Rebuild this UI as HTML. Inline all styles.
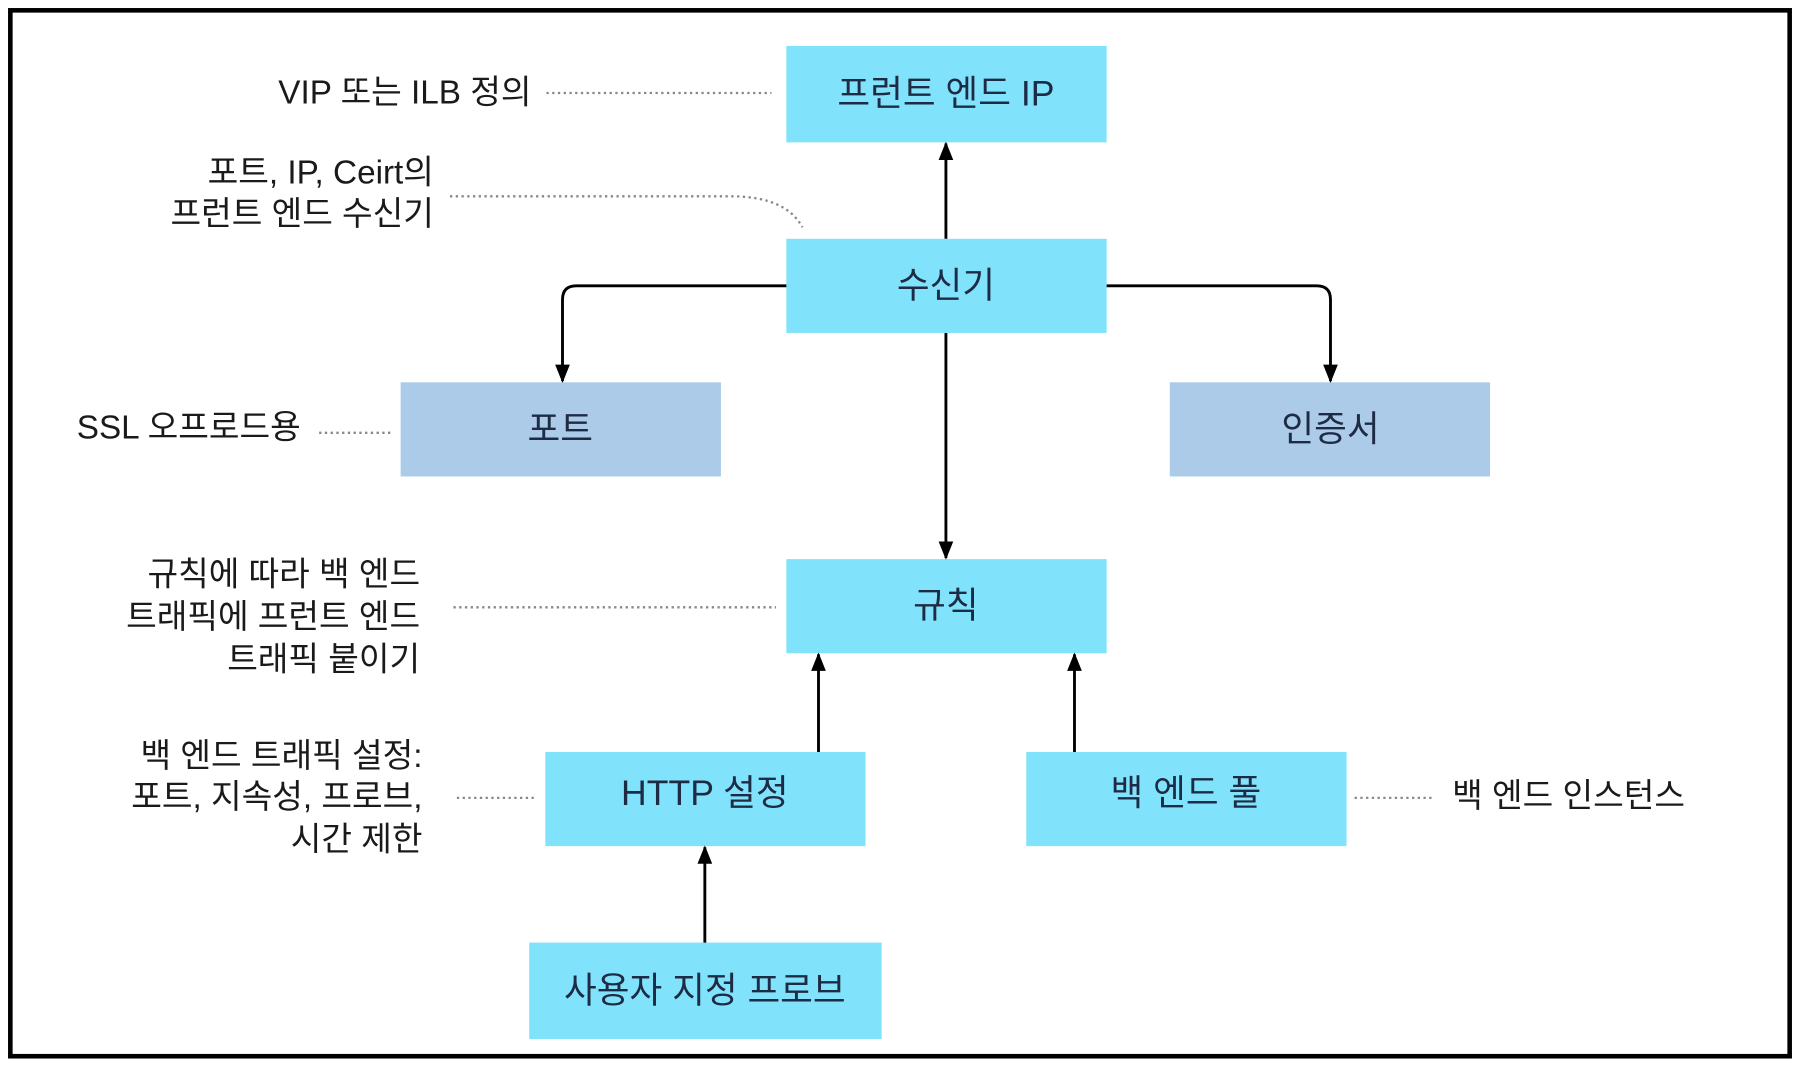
<!DOCTYPE html>
<html><head><meta charset="utf-8"><style>
html,body{margin:0;padding:0;background:#fff;}
svg{display:block;}
text{font-family:"Liberation Sans","Noto Sans CJK KR",sans-serif;}
.b{font-size:31px;fill:#1e2b44;text-anchor:middle;}
.l{font-size:29px;fill:#1a1a1a;}
.d{stroke:#888;stroke-width:2;stroke-dasharray:2 3;fill:none;}
.a{stroke:#000;stroke-width:2.5;fill:none;}
</style></head><body>
<svg width="1800" height="1070" viewBox="0 0 1568 932" preserveAspectRatio="none">
<defs><marker id="m" viewBox="0 0 10 10" refX="9" refY="5" markerWidth="8" markerHeight="8" markerUnits="userSpaceOnUse" orient="auto"><path d="M0,0 L10,5 L0,10z" fill="#000"/></marker>
<marker id="m2" viewBox="0 0 10 10" refX="9" refY="5" markerWidth="16" markerHeight="16" markerUnits="userSpaceOnUse" orient="auto"><path d="M0,1 L10,5 L0,9z" fill="#000"/></marker></defs>
<rect x="9" y="9" width="1550" height="911" fill="#fff" stroke="#000" stroke-width="4"/>
<g fill="#80e3fb">
<rect x="685" y="40" width="279" height="84"/>
<rect x="685" y="208" width="279" height="82"/>
<rect x="685" y="487" width="279" height="82"/>
<rect x="475" y="655" width="279" height="82"/>
<rect x="894" y="655" width="279" height="82"/>
<rect x="461" y="821" width="307" height="84"/>
</g>
<g fill="#abcbe9">
<rect x="349" y="333" width="279" height="82"/>
<rect x="1019" y="333" width="279" height="82"/>
</g>
<g class="a">
<path d="M824 208 V125" marker-end="url(#m2)"/>
<path d="M685 249 H502 Q490 249 490 261 V332" marker-end="url(#m2)"/>
<path d="M964 249 H1147 Q1159 249 1159 261 V332" marker-end="url(#m2)"/>
<path d="M824 290 V486" marker-end="url(#m2)"/>
<path d="M713 655 V570" marker-end="url(#m2)"/>
<path d="M936 655 V570" marker-end="url(#m2)"/>
<path d="M614 821 V738" marker-end="url(#m2)"/>
</g>
<g class="d">
<path d="M476 81 H672"/>
<path d="M392 171 H640 Q685 172 699 198"/>
<path d="M278 377 H341"/>
<path d="M395 529 H676"/>
<path d="M398 695 H468"/>
<path d="M1180 695 H1250"/>
</g>
<text class="b" x="824" y="92">프런트 엔드 IP</text>
<text class="b" x="824" y="259">수신기</text>
<text class="b" x="488" y="384">포트</text>
<text class="b" x="1159" y="384">인증서</text>
<text class="b" x="824" y="538">규칙</text>
<text class="b" x="614" y="701">HTTP 설정</text>
<text class="b" x="1033" y="701">백 엔드 풀</text>
<text class="b" x="614" y="873">사용자 지정 프로브</text>
<g class="l" text-anchor="end">
<text x="463" y="90">VIP 또는 ILB 정의</text>
<text x="378" y="160">포트, IP, Ceirt의</text>
<text x="378" y="196">프런트 엔드 수신기</text>
<text x="262" y="382">SSL 오프로드용</text>
<text x="366" y="510">규칙에 따라 백 엔드</text>
<text x="366" y="547">트래픽에 프런트 엔드</text>
<text x="366" y="584">트래픽 붙이기</text>
<text x="368" y="668">백 엔드 트래픽 설정:</text>
<text x="368" y="704">포트, 지속성, 프로브,</text>
<text x="368" y="741">시간 제한</text>
</g>
<text class="l" x="1265" y="703">백 엔드 인스턴스</text>
</svg>
</body></html>
